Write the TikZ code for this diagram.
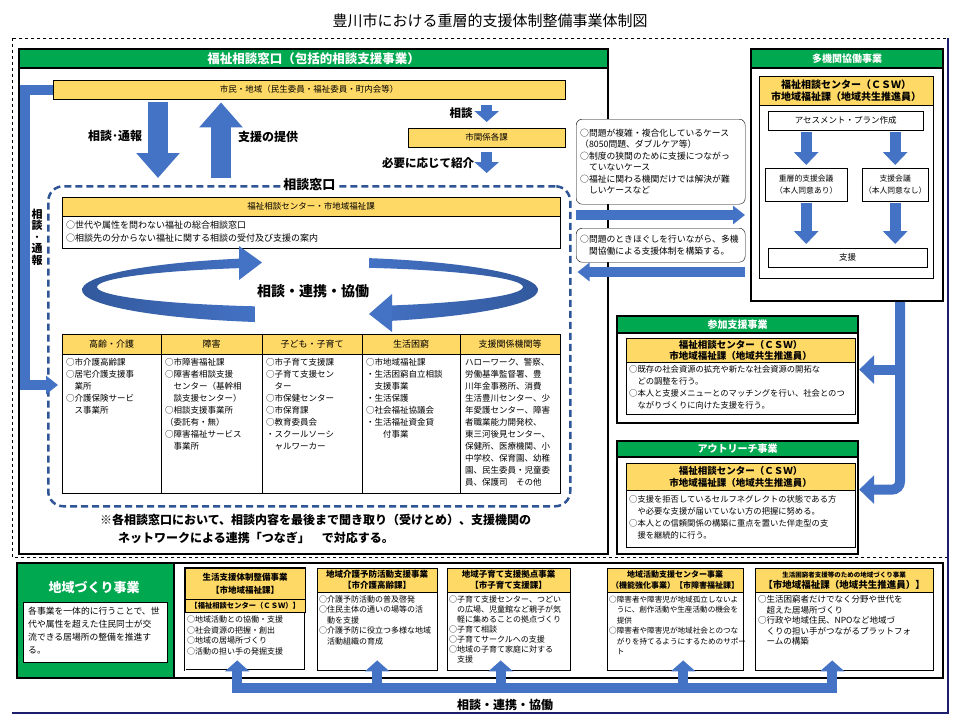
\documentclass[tikz,border=0pt]{standalone}
\usepackage{fontspec}
\setmainfont{Noto Sans CJK JP}
\usepackage{xcolor}
\usepackage{tikz}
\usetikzlibrary{arrows.meta}
\usetikzlibrary{positioning, calc}
\newcommand{\fsz}[2]{\fontsize{#1}{#2}\selectfont}
\definecolor{hgreen}{RGB}{0,168,80}
\definecolor{hyellow}{RGB}{255,217,102}
\definecolor{ablue}{RGB}{68,114,196}
\definecolor{dnavy}{RGB}{47,85,151}
\definecolor{fnavy}{RGB}{30,30,110}
\tikzstyle{box} = [rectangle, draw=black, fill=white, anchor=north west, inner sep=0pt]
\tikzstyle{ybox} = [rectangle, draw=black, fill=hyellow, anchor=north west, inner sep=1pt, align=center, font=\fsz{8.5}{10}]
\tikzstyle{gbar} = [rectangle, draw=black, line width=2.2pt, fill=hgreen, text=white, anchor=north west, inner sep=0pt, font=\bfseries\fsz{10}{12}]
\tikzstyle{txt} = [anchor=north west, align=left, inner sep=0pt]
\tikzstyle{callout} = [rectangle, rounded corners=6pt, draw=black, fill=white, anchor=north west, align=left, inner sep=4pt, font=\fsz{8.8}{11.5}]
\tikzstyle{lbl} = [font=\bfseries\fsz{12}{14}]
\tikzstyle{bigarrow} = [line width=20pt, ablue, -{Triangle[length=25pt, width=42pt]}]
\tikzstyle{arrow} = [line width=11pt, ablue, -{Triangle[length=11pt, width=24pt]}]
\tikzstyle{sarrow} = [line width=10pt, ablue, -{Triangle[length=12pt, width=18pt]}]
\tikzstyle{marrow} = [line width=11pt, ablue, -{Triangle[length=13pt, width=24pt]}]
\tikzstyle{sidearrow} = [line width=10pt, ablue, -{Triangle[length=15pt, width=28pt]}]
\tikzstyle{uparrow} = [line width=10pt, ablue, -{Triangle[length=11pt, width=24pt]}]
\begin{document}
\begin{tikzpicture}[x=1pt, y=-1pt, font=\fsz{8.5}{11}]
\useasboundingbox (0,0) rectangle (960,720);
\draw[dashed, line width=0.8pt] (12,38) rectangle (947,557);
\draw[fnavy, line width=1.2pt] (948,38) -- (948,713) -- (12,713);
\node (title) at (490,21) {\fsz{15}{17}豊川市における重層的支援体制整備事業体制図};

\node (soudan) [box, line width=2.2pt, minimum width=589pt, minimum height=505pt] at (18,48) {};
\node (soudanhd) [gbar, minimum width=589pt, minimum height=19pt, font=\bfseries\fsz{12.5}{14}] at (18,48) {福祉相談窓口（包括的相談支援事業）};
\node (shimin) [ybox, minimum width=512pt, minimum height=19pt] at (53,80) {市民・地域（民生委員・福祉委員・町内会等）};
\node (kankei) [ybox, minimum width=157pt, minimum height=19pt] at (408,128) {市関係各課};
\node (madoguchi) [rectangle, draw=dnavy, dash pattern=on 7pt off 4pt, line width=2.5pt, rounded corners=15pt, minimum width=522pt, minimum height=320pt, anchor=north west] at (47,185) {};
\node (mdtitle) [fill=white, inner sep=2pt, font=\bfseries\fsz{13}{15}] at (madoguchi.north) {相談窓口};

\draw[bigarrow, shorten <=3pt, shorten >=7pt] ([xshift=105pt]shimin.south west) -- ([xshift=111pt]madoguchi.north west);
\draw[bigarrow, shorten <=7pt, shorten >=3pt] ([xshift=174pt]madoguchi.north west) -- ([xshift=168pt]shimin.south west);
\draw[arrow, shorten <=6pt, shorten >=6pt] (shimin.south -| kankei.north) -- (kankei.north);
\draw[arrow, shorten <=5pt, shorten >=12pt] (kankei.south) -- (madoguchi.north -| kankei.south);
\node (l1) [lbl] at (115,136) {相談･通報};
\node (l2) [lbl] at (268,137) {支援の提供};
\node (l3) [lbl, font=\bfseries\fsz{11.5}{13}] at (461,113) {相談};
\node (l4) [lbl, font=\bfseries\fsz{11.5}{13}] at (428,163) {必要に応じて紹介};
\node (l5) [lbl, align=center, font=\bfseries\fsz{11}{11.5}] at (37,237) {相\\談\\･\\通\\報};

\node (fcenter) [ybox, minimum width=498pt, minimum height=19pt] at (62,197) {福祉相談センター・市地域福祉課};
\node (fcenterbd) [box, minimum width=498pt, minimum height=32pt, below=0pt of fcenter] {};
\node (fcentertx) [txt, font=\fsz{9}{13}] at ([xshift=4pt,yshift=-4pt]fcenterbd.north west) {○世代や属性を問わない福祉の総合相談窓口\\○相談先の分からない福祉に関する相談の受付及び支援の案内};

\begin{scope}[shift={(310,290)}, y=1pt]
\shade[left color=dnavy, right color=ablue] (256:228 and 33) arc[start angle=256, end angle=107.9, x radius=228, y radius=33] -- ($(0,3)+(109.2:213 and 20)$) arc[start angle=109.2, end angle=255, x radius=213, y radius=20] -- cycle;
\fill[ablue] (-71,44) -- (-71,10) -- (-48,27.5) -- cycle;
\shade[left color=ablue, right color=dnavy] (75:228 and 33) arc[start angle=75, end angle=-69.2, x radius=228, y radius=33] -- ($(0,3)+(-67.6:213 and 20)$) arc[start angle=-67.6, end angle=73.9, x radius=213, y radius=20] -- cycle;
\fill[ablue] (82,-4) -- (82,-42) -- (59,-24) -- cycle;
\end{scope}
\node (ringtx) [lbl, font=\bfseries\fsz{14}{16}] at (313,291) {相談・連携・協働};

\node (hyo) [box, minimum width=498pt, minimum height=159pt] at (62,334) {};
\node (h1) [ybox, minimum width=99pt, minimum height=20pt, font=\fsz{9}{11}] at (62,334) {高齢・介護};
\node (h2) [ybox, minimum width=101pt, minimum height=20pt, font=\fsz{9}{11}] at (161,334) {障害};
\node (h3) [ybox, minimum width=100pt, minimum height=20pt, font=\fsz{9}{11}] at (262,334) {子ども・子育て};
\node (h4) [ybox, minimum width=98pt, minimum height=20pt, font=\fsz{9}{11}] at (362,334) {生活困窮};
\node (h5) [ybox, minimum width=100pt, minimum height=20pt, font=\fsz{9}{11}] at (460,334) {支援関係機関等};
\draw (h2.north west) -- (h2.north west |- hyo.south);
\draw (h3.north west) -- (h3.north west |- hyo.south);
\draw (h4.north west) -- (h4.north west |- hyo.south);
\draw (h5.north west) -- (h5.north west |- hyo.south);
\node (b1) [txt, font=\fsz{8.5}{12}] at ([xshift=4pt,yshift=-4pt]h1.south west) {○市介護高齢課\\○居宅介護支援事\\　業所\\○介護保険サービ\\　ス事業所};
\node (b2) [txt, font=\fsz{8.5}{12}] at ([xshift=4pt,yshift=-4pt]h2.south west) {○市障害福祉課\\○障害者相談支援\\　センター（基幹相\\　談支援センター）\\○相談支援事業所\\（委託有・無）\\○障害福祉サービス\\　事業所};
\node (b3) [txt, font=\fsz{8.5}{12}] at ([xshift=4pt,yshift=-4pt]h3.south west) {○市子育て支援課\\○子育て支援セン\\　ター\\○市保健センター\\○市保育課\\○教育委員会\\・スクールソーシ\\　ャルワーカー};
\node (b4) [txt, font=\fsz{8.5}{12}] at ([xshift=4pt,yshift=-4pt]h4.south west) {○市地域福祉課\\・生活困窮自立相談\\　支援事業\\・生活保護\\○社会福祉協議会\\・生活福祉資金貸\\　　付事業};
\node (b5) [txt, font=\fsz{8.5}{12}] at ([xshift=5pt,yshift=-4pt]h5.south west) {ハローワーク、警察、\\労働基準監督署、豊\\川年金事務所、消費\\生活豊川センター、少\\年愛護センター、障害\\者職業能力開発校、\\東三河後見センター、\\保健所、医療機関、小\\中学校、保育園、幼稚\\園、民生委員・児童委\\員、保護司　その他};
\draw[sarrow, shorten >=4pt] (shimin.west) -- ++(-28,0) |- ([yshift=-51pt]hyo.north west);

\node (note) [txt, font=\bfseries\fsz{12}{18}] at (100,514) {※各相談窓口において、相談内容を最後まで聞き取り（受けとめ）、支援機関の\\\hspace{18pt}ネットワークによる連携「つなぎ」　で対応する。};

\node (case1) [callout, text width=161pt, minimum height=85pt] at (576,119) {○問題が複雑・複合化しているケース\\ （8050問題、ダブルケア等）\\○制度の狭間のために支援につながっ\\　ていないケース\\○福祉に関わる機関だけでは解決が難\\　しいケースなど};
\node (case2) [callout, text width=161pt, minimum height=34pt] at (576,228) {○問題のときほぐしを行いながら、多機\\　関協働による支援体制を構築する。};

\node (takikan) [box, line width=2.2pt, minimum width=192pt, minimum height=252pt] at (750,48) {};
\node (takikanhd) [gbar, minimum width=192pt, minimum height=19pt] at (750,48) {多機関協働事業};
\node (csw1) [ybox, minimum width=174pt, minimum height=29pt, font=\bfseries\fsz{10}{12.5}] at (759,76) {福祉相談センター（ＣＳＷ）\\市地域福祉課（地域共生推進員）};
\node (csw1bd) [box, minimum width=174pt, minimum height=173pt, below=0pt of csw1] {};
\node (assess) [box, minimum width=155pt, minimum height=19pt] at (768,111) {アセスメント・プラン作成};
\node (jusou) [box, minimum width=82pt, minimum height=33pt, align=center, font=\fsz{7.8}{12}] at (765,168) {重層的支援会議\\（本人同意あり）};
\node (shienkaigi) [box, minimum width=66pt, minimum height=33pt, align=center, font=\fsz{7.8}{12}] at (862,168) {支援会議\\（本人同意なし）};
\node (shien) [box, minimum width=159pt, minimum height=19pt] at (768,248) {支援};
\draw[marrow, shorten <=2pt, shorten >=3pt] (assess.south -| jusou.north) -- (jusou.north);
\draw[marrow, shorten <=2pt, shorten >=3pt] (assess.south -| shienkaigi.north) -- (shienkaigi.north);
\draw[marrow, shorten <=2pt, shorten >=4pt] (jusou.south) -- (shien.north -| jusou.south);
\draw[marrow, shorten <=2pt, shorten >=4pt] (shienkaigi.south) -- (shien.north -| shienkaigi.south);

\coordinate (ya) at (0,215);
\coordinate (yb) at (0,272);
\draw[sarrow, shorten <=4pt, shorten >=5pt] (madoguchi.east |- ya) -- (takikan.west |- ya);
\draw[sarrow, shorten <=5pt, shorten >=6pt] (takikan.west |- yb) -- (madoguchi.east |- yb);

\node (sanka) [box, line width=2.2pt, minimum width=241pt, minimum height=107pt] at (616,315) {};
\node (sankahd) [gbar, minimum width=241pt, minimum height=17pt] at (616,315) {参加支援事業};
\node (csw2) [ybox, minimum width=229pt, minimum height=24pt, font=\bfseries\fsz{9.5}{11}] at (626,338) {福祉相談センター（ＣＳＷ）\\市地域福祉課（地域共生推進員）};
\node (csw2bd) [box, minimum width=229pt, minimum height=52pt, below=0pt of csw2] {};
\node (sankatx) [txt, font=\fsz{8.3}{12}] at ([xshift=3pt,yshift=-3pt]csw2bd.north west) {○既存の社会資源の拡充や新たな社会資源の開拓な\\　どの調整を行う。\\○本人と支援メニューとのマッチングを行い、社会とのつ\\　ながりづくりに向けた支援を行う。};

\node (outreach) [box, line width=2.2pt, minimum width=241pt, minimum height=113pt] at (616,440) {};
\node (outreachhd) [gbar, minimum width=241pt, minimum height=16pt] at (616,440) {アウトリーチ事業};
\node (csw3) [ybox, minimum width=229pt, minimum height=27pt, font=\bfseries\fsz{9.5}{12}] at (626,463) {福祉相談センター（ＣＳＷ）\\市地域福祉課（地域共生推進員）};
\node (csw3bd) [box, minimum width=229pt, minimum height=57pt, below=0pt of csw3] {};
\node (outreachtx) [txt, font=\fsz{8.3}{12}] at ([xshift=3pt,yshift=-5pt]csw3bd.north west) {○支援を拒否しているセルフネグレクトの状態である方\\　や必要な支援が届いていない方の把握に努める。\\○本人との信頼関係の構築に重点を置いた伴走型の支\\　援を継続的に行う。};

\coordinate (vx) at (900,0);
\draw[sidearrow, rounded corners=8pt] (takikan.south -| vx) |- ([yshift=8pt]outreach.east);
\draw[sidearrow] (vx |- sanka.east) -- (sanka.east);

\node (chiiki) [box, line width=2.2pt, minimum width=926pt, minimum height=115pt] at (16,562) {};
\node (chiikihd) [rectangle, fill=hgreen, draw=black, line width=2.2pt, minimum width=157pt, minimum height=115pt, anchor=north west] at (16,562) {};
\node (chiikitl) [text=white, font=\bfseries\fsz{13}{15}] at (94,588) {地域づくり事業};
\node (chiikibd) [box, minimum width=144pt, minimum height=60pt] at (23,602) {};
\node (chiikitx) [txt, font=\fsz{8.8}{13}] at ([xshift=5pt,yshift=-5pt]chiikibd.north west) {各事業を一体的に行うことで、世\\代や属性を超えた住民同士が交\\流できる居場所の整備を推進す\\る。};

\node (sub1) [box, double, double distance=1.2pt, minimum width=120pt, minimum height=102pt] at (185,568) {};
\node (sub1hd) [ybox, minimum width=120pt, minimum height=31pt, font=\bfseries\fsz{8.5}{13}] at (185,568) {生活支援体制整備事業\\【市地域福祉課】};
\node (sub1hd2) [ybox, minimum width=120pt, minimum height=13pt, font=\bfseries\fsz{7.3}{9}, below=0pt of sub1hd] {【福祉相談センター（ＣＳＷ）】};
\node (sub1tx) [txt, font=\fsz{8}{10.5}] at ([xshift=2pt,yshift=-3pt]sub1hd2.south west) {○地域活動との協働・支援\\○社会資源の把握・創出\\○地域の居場所づくり\\○活動の担い手の発掘支援};

\node (sub2) [box, minimum width=120pt, minimum height=102pt] at (317,568) {};
\node (sub2hd) [ybox, minimum width=120pt, minimum height=24pt, font=\bfseries\fsz{8.5}{11}] at (317,568) {地域介護予防活動支援事業\\【市介護高齢課】};
\node (sub2tx) [txt, font=\fsz{8}{10.5}] at ([xshift=2pt,yshift=-3pt]sub2hd.south west) {○介護予防活動の普及啓発\\○住民主体の通いの場等の活\\　動を支援\\○介護予防に役立つ多様な地域\\　活動組織の育成};

\node (sub3) [box, minimum width=123pt, minimum height=102pt] at (447,568) {};
\node (sub3hd) [ybox, minimum width=123pt, minimum height=24pt, font=\bfseries\fsz{8.5}{11}] at (447,568) {地域子育て支援拠点事業\\【市子育て支援課】};
\node (sub3tx) [txt, font=\fsz{8}{10}] at ([xshift=2pt,yshift=-3pt]sub3hd.south west) {○子育て支援センター、つどい\\　の広場、児童館など親子が気\\　軽に集めることの拠点づくり\\○子育て相談\\○子育てサークルへの支援\\○地域の子育て家庭に対する\\　支援};

\node (sub4) [box, minimum width=136pt, minimum height=102pt] at (607,568) {};
\node (sub4hd) [ybox, minimum width=136pt, minimum height=24pt, font=\bfseries\fsz{8}{11}] at (607,568) {地域活動支援センター事業\\（機能強化事業）【市障害福祉課】};
\node (sub4tx) [txt, font=\fsz{7.6}{10.5}] at ([xshift=2pt,yshift=-3pt]sub4hd.south west) {○障害者や障害児が地域孤立しないよ\\　うに、創作活動や生産活動の機会を\\　提供\\○障害者や障害児が地域社会とのつな\\　がりを持てるようにするためのサポー\\　ト};

\node (sub5) [box, minimum width=178pt, minimum height=102pt] at (755,568) {};
\node (sub5hd) [ybox, minimum width=178pt, minimum height=24pt, font=\bfseries\fsz{9.5}{11}] at (755,568) {{\fsz{6.5}{8}生活困窮者支援等のための地域づくり事業}\\【市地域福祉課（地域共生推進員）】};
\node (sub5tx) [txt, font=\fsz{8.5}{10.5}] at ([xshift=3pt,yshift=-3pt]sub5hd.south west) {○生活困窮者だけでなく分野や世代を\\　超えた居場所づくり\\○行政や地域住民、NPOなど地域づ\\　くりの担い手がつながるプラットフォ\\　ームの構築};

\draw[line width=10pt, ablue, line cap=rect] ($(sub1.south)+(-8,18)$) -- ($(sub5.south)+(-12,18)$);
\draw[uparrow] ($(sub1.south)+(-8,18)$) -- ($(sub1.south)+(-8,-10)$);
\draw[uparrow] ($(sub2.south)+(0,18)$) -- ($(sub2.south)+(0,-10)$);
\draw[uparrow] ($(sub3.south)+(-8,18)$) -- ($(sub3.south)+(-8,-10)$);
\draw[uparrow] ($(sub4.south)+(8,18)$) -- ($(sub4.south)+(8,-10)$);
\draw[uparrow] ($(sub5.south)+(-12,18)$) -- ($(sub5.south)+(-12,-10)$);
\node (renkei) [lbl] at (505,705) {相談・連携・協働};
\end{tikzpicture}
\end{document}
